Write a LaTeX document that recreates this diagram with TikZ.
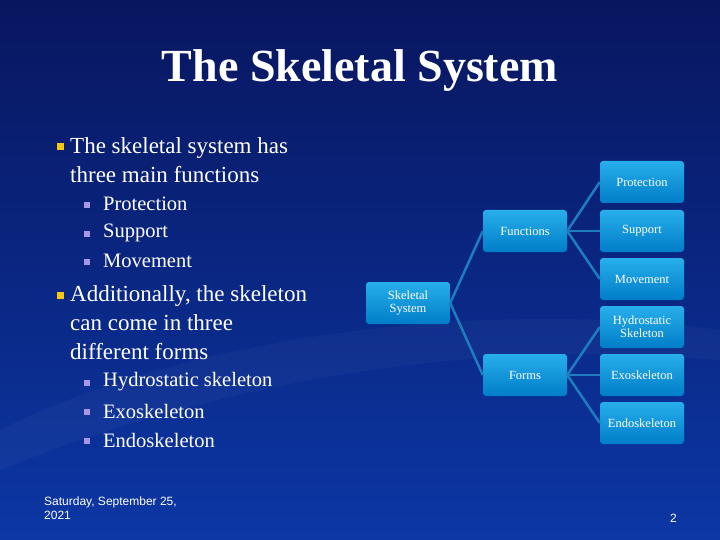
\documentclass[tikz,border=0pt]{standalone}
\usepackage{fontspec}
\setmainfont{Liberation Serif}
\newfontfamily\datefont{Liberation Sans}
\begin{document}
\begin{tikzpicture}[x=1pt,y=-1pt,
  box/.style={rectangle,rounded corners=3pt,minimum width=84pt,minimum height=42pt,top color=boxtop,bottom color=boxbot,draw=none,text=white,font=\fontsize{12.5}{13}\selectfont,align=center,inner sep=1pt},
  link/.style={draw=linkc,line width=2.5pt},
  mainb/.style={anchor=west,text=white,font=\fontsize{23}{29}\selectfont,align=left,inner sep=0pt},
  subb/.style={anchor=west,text=white,font=\fontsize{20.5}{24}\selectfont,inner sep=0pt},
  ybul/.style={fill=bulY,minimum size=7pt,inner sep=0pt},
  pbul/.style={fill=bulP,minimum size=6pt,inner sep=0pt}]
\definecolor{bgtop}{RGB}{8,22,95}
\definecolor{bgbot}{RGB}{12,55,165}
\definecolor{boxtop}{RGB}{40,175,235}
\definecolor{boxbot}{RGB}{0,125,200}
\definecolor{linkc}{RGB}{30,125,190}
\definecolor{bulY}{RGB}{245,200,20}
\definecolor{bulP}{RGB}{170,150,230}
\useasboundingbox (0,0) rectangle (720,540);
\shade[top color=bgtop,bottom color=bgbot] (0,0) rectangle (720,540);
\fill[white,opacity=0.03] (0,430) .. controls (200,330) and (500,300) .. (720,330) -- (720,360) .. controls (500,340) and (250,370) .. (0,470) -- cycle;
\node[text=white,font=\fontsize{46}{50}\selectfont\bfseries] (title) at (360,71) {The Skeletal System};
% bullets
\node[ybul] (b1) at (60,147) {};
\node[mainb] (t1) at (70,160) {The skeletal system has\\three main functions};
\node[pbul] (s1) at (87,205) {};
\node[subb] (u1) at (103,204) {Protection};
\node[pbul] (s2) at (87,234) {};
\node[subb] (u2) at (103,233) {Support};
\node[pbul] (s3) at (87,262) {};
\node[subb] (u3) at (103,261) {Movement};
\node[ybul] (b2) at (60,295) {};
\node[mainb] (t2) at (70,323) {Additionally, the skeleton\\can come in three\\different forms};
\node[pbul] (s4) at (87,383) {};
\node[subb] (u4) at (103,382) {Hydrostatic skeleton};
\node[pbul] (s5) at (87,412) {};
\node[subb] (u5) at (103,411) {Exoskeleton};
\node[pbul] (s6) at (87,441) {};
\node[subb] (u6) at (103,440) {Endoskeleton};
% diagram
\node[box] (sk) at (408,303) {Skeletal\\System};
\node[box] (fn) at (525,231) {Functions};
\node[box] (fo) at (525,375) {Forms};
\node[box] (pr) at (642,182) {Protection};
\node[box] (su) at (642,231) {Support};
\node[box] (mo) at (642,279) {Movement};
\node[box] (hy) at (642,327) {Hydrostatic\\Skeleton};
\node[box] (ex) at (642,375) {Exoskeleton};
\node[box] (en) at (642,423) {Endoskeleton};
\draw[link] (sk.east) -- (fn.west);
\draw[link] (sk.east) -- (fo.west);
\foreach \c in {pr,su,mo} \draw[link] (fn.east) -- (\c.west);
\foreach \c in {hy,ex,en} \draw[link] (fo.east) -- (\c.west);
% footer
\node[anchor=north west,text=white,font=\datefont\fontsize{12}{14}\selectfont,align=left,inner sep=0pt] (date) at (44,497) {Saturday, September 25,\\2021};
\node[anchor=east,text=white,font=\datefont\fontsize{12}{14}\selectfont,inner sep=0pt] (pg) at (677,518) {2};
\end{tikzpicture}
\end{document}
